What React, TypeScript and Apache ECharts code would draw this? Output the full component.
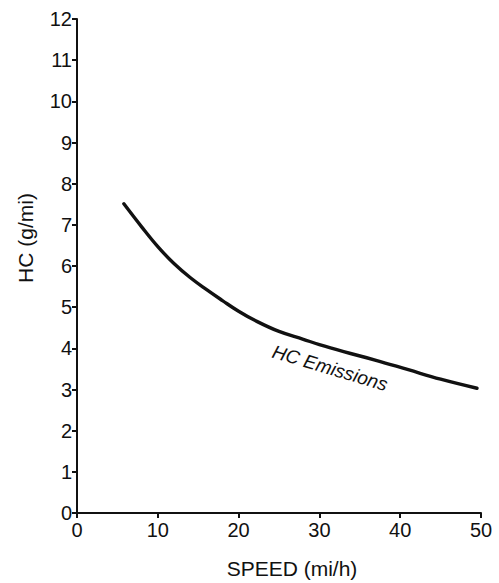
import React, { useEffect, useRef } from "react";
import * as echarts from "echarts";

const speed = [5.8, 8, 10, 12, 14, 16, 18, 20, 22, 25, 28, 30, 33, 37, 41, 45, 49.5];
const hc = [7.51, 6.95, 6.47, 6.06, 5.72, 5.43, 5.16, 4.9, 4.68, 4.41, 4.22, 4.09, 3.92, 3.71, 3.48, 3.25, 3.03];
const xTicks = [0, 10, 20, 30, 40, 50];
const yTicks = [0, 1, 2, 3, 4, 5, 6, 7, 8, 9, 10, 11, 12];
const seriesLabel = "HC Emissions";
const xName = "SPEED (mi/h)";
const yName = "HC (g/mi)";

const FONT = "'Liberation Sans', Arial, Helvetica, sans-serif";

export default function App() {
  const ref = useRef<HTMLDivElement>(null);
  useEffect(() => {
    if (!ref.current) return;
    const chart = echarts.init(ref.current, null, { renderer: "svg" });
    chart.setOption({
      animation: false,
      backgroundColor: "#fff",
      grid: { left: 77, right: 18, top: 19, bottom: 70, containLabel: false },
      xAxis: {
        type: "value",
        min: xTicks[0],
        max: xTicks[xTicks.length - 1],
        interval: 10,
        axisLine: { show: true, lineStyle: { color: "#111", width: 2 } },
        axisTick: { show: true, length: 5, lineStyle: { color: "#111", width: 2 } },
        axisLabel: { color: "#111", fontSize: 20, fontFamily: FONT, margin: 7 },
        splitLine: { show: false },
      },
      yAxis: {
        type: "value",
        min: yTicks[0],
        max: yTicks[yTicks.length - 1],
        interval: 1,
        axisLine: { show: true, lineStyle: { color: "#111", width: 2 } },
        axisTick: { show: true, length: 5, lineStyle: { color: "#111", width: 2 } },
        axisLabel: { color: "#111", fontSize: 20, fontFamily: FONT, margin: 5 },
        splitLine: { show: false },
      },
      series: [
        {
          type: "line",
          name: seriesLabel,
          data: speed.map((s, i) => [s, hc[i]]),
          smooth: 0.4,
          showSymbol: false,
          lineStyle: { color: "#111", width: 3.4, cap: "round" },
        },
      ],
      graphic: [
        {
          type: "text",
          x: 330,
          y: 368,
          rotation: -0.29,
          style: {
            text: seriesLabel,
            fontSize: 19,
            fontStyle: "italic",
            fontFamily: FONT,
            fill: "#111",
            align: "center",
            verticalAlign: "middle",
          },
        },
        {
          type: "text",
          x: 292,
          y: 568,
          style: {
            text: xName,
            fontSize: 21,
            fontFamily: FONT,
            fill: "#111",
            align: "center",
            verticalAlign: "middle",
          },
        },
        {
          type: "text",
          x: 25,
          y: 238,
          rotation: Math.PI / 2,
          style: {
            text: yName,
            fontSize: 21,
            fontFamily: FONT,
            fill: "#111",
            align: "center",
            verticalAlign: "middle",
          },
        },
      ],
    });
    return () => chart.dispose();
  }, []);
  return <div ref={ref} style={{ width: 499, height: 583, position: "fixed", left: 0, top: 0 }} />;
}
